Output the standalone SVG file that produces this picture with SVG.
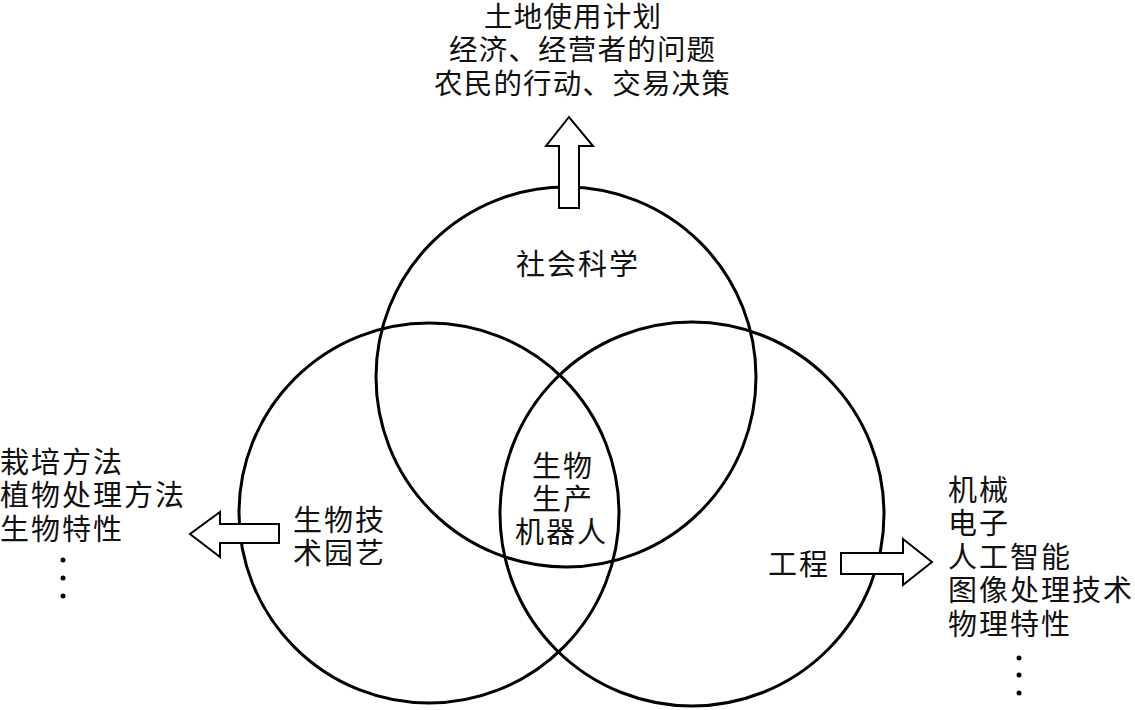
<svg xmlns="http://www.w3.org/2000/svg" width="1135" height="710" viewBox="0 0 1135 710">
<style>
.c{fill:none;stroke:#000;stroke-width:3}
.a{fill:#fff;stroke:#000;stroke-width:2}
text{font-family:"Liberation Sans","Noto Sans CJK SC",sans-serif;font-size:29px;letter-spacing:2px;fill:#111}
.t{font-size:28.5px;letter-spacing:1.2px}
.d{fill:#000}
</style>
<rect width="1135" height="710" fill="#fff"/>
<g id="circle-social"><circle class="c" cx="566" cy="377" r="190"/></g>
<g id="circle-bio"><circle class="c" cx="429" cy="513" r="190"/></g>
<g id="circle-eng"><circle class="c" cx="692" cy="514" r="192"/></g>
<g id="connectors">
<polygon class="a" points="559,208 579,208 579,146 593,146 569,117 546,146 559,146"/>
<polygon class="a" points="279,524 279,543 220,543 220,557 190,534 220,512 220,524"/>
<polygon class="a" points="841,553 903,553 903,539 932,562 903,585 903,574 841,574"/>
</g>
<g id="top-text">
<text class="t" x="484" y="27">土地使用计划</text>
<text class="t" x="449" y="60">经济、经营者的问题</text>
<text class="t" x="434" y="94">农民的行动、交易决策</text>
</g>
<g id="social"><text x="516" y="275">社会科学</text></g>
<g id="bio">
<text x="293" y="531">生物技</text>
<text x="293" y="564">术园艺</text>
</g>
<g id="center">
<text x="532" y="477">生物</text>
<text x="532" y="510">生产</text>
<text x="515" y="543">机器人</text>
</g>
<g id="eng"><text x="768" y="575">工程</text></g>
<g id="left-list">
<text x="0" y="473">栽培方法</text>
<text x="0" y="506">植物处理方法</text>
<text x="0" y="540">生物特性</text>
<circle class="d" cx="63" cy="560" r="2.5"/>
<circle class="d" cx="63" cy="578" r="2.5"/>
<circle class="d" cx="63" cy="596" r="2.5"/>
</g>
<g id="right-list">
<text x="948" y="501">机械</text>
<text x="948" y="534">电子</text>
<text x="948" y="568">人工智能</text>
<text x="948" y="601">图像处理技术</text>
<text x="948" y="635">物理特性</text>
<circle class="d" cx="1019" cy="658" r="2.5"/>
<circle class="d" cx="1019" cy="675" r="2.5"/>
<circle class="d" cx="1019" cy="693" r="2.5"/>
</g>
</svg>
